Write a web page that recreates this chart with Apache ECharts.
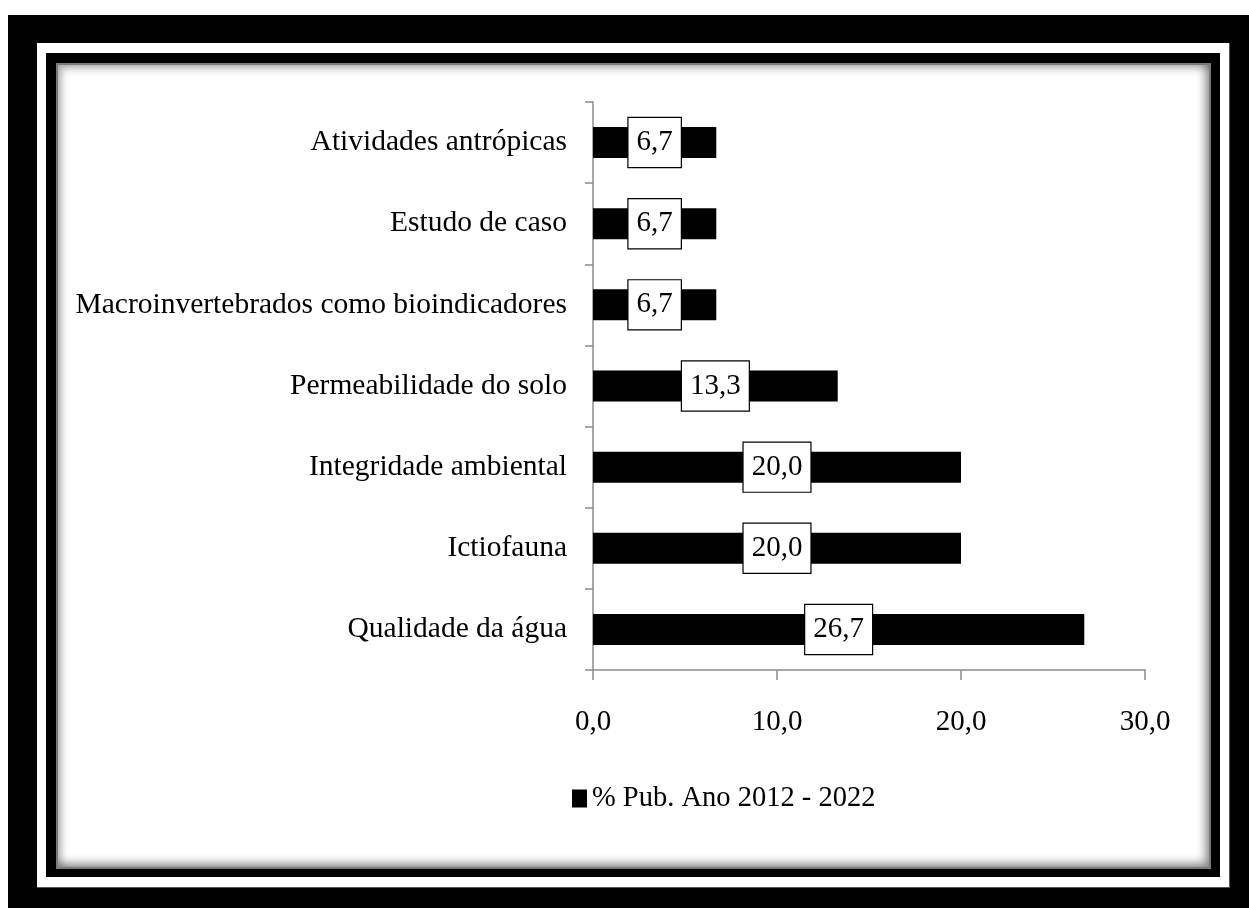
<!DOCTYPE html>
<html>
<head>
<meta charset="utf-8">
<script src="https://cdn.jsdelivr.net/npm/echarts@6/dist/echarts.min.js"></script>
<style>
  html, body { margin: 0; padding: 0; background: #fff; }
  #wrap { position: relative; width: 1249px; height: 908px; overflow: hidden; background: #fff; }
  .f { position: absolute; box-sizing: border-box; }
  #outer { left: 8px; top: 15px; width: 1241px; height: 893px; background: #000; }
  #gap { left: 37px; top: 43px; width: 1193px; height: 845px; background: #fff; border-right: 1px solid #555; border-bottom: 1px solid #555; }
  #band { left: 46px; top: 53px; width: 1174px; height: 824px; background: #000; }
  #panel { left: 56px; top: 63px; width: 1155px; height: 806px; background: #fff;
           border: 2px solid #7a7a7a;
           box-shadow: inset 3px 3px 8px rgba(0,0,0,0.3), inset -4px -4px 10px rgba(0,0,0,0.4); }
  #chart { position: absolute; left: 0; top: 0; width: 1249px; height: 908px; }
</style>
</head>
<body>
<div id="wrap">
  <div class="f" id="outer"></div>
  <div class="f" id="gap"></div>
  <div class="f" id="band"></div>
  <div class="f" id="panel"></div>
  <div id="chart"></div>
</div>
<script>
// Themes, listed bottom to top as drawn on the category axis
const categories = [
  'Qualidade da água',
  'Ictiofauna',
  'Integridade ambiental',
  'Permeabilidade do solo',
  'Macroinvertebrados como bioindicadores',
  'Estudo de caso',
  'Atividades antrópicas'
];
// Share of publications (%) per theme
const shares = [26.7, 20.0, 20.0, 13.3, 6.7, 6.7, 6.7];
const seriesName = '% Pub. Ano 2012 - 2022';

const fmt = v => v.toFixed(1).replace('.', ',');
const serif = '"Liberation Serif", "Times New Roman", serif';

const chart = echarts.init(document.getElementById('chart'), null, { renderer: 'canvas' });
chart.setOption({
  backgroundColor: 'transparent',
  animation: false,
  textStyle: { fontFamily: serif, color: '#000' },
  grid: { left: 593, right: 104, top: 102, bottom: 238, containLabel: false },
  legend: {
    data: [seriesName],
    left: 567, top: 779,
    icon: 'rect', itemWidth: 15, itemHeight: 18, itemGap: 6,
    textStyle: { fontFamily: serif, fontSize: 28.5, color: '#000', padding: [0, 0, 0, 0] }
  },
  xAxis: {
    type: 'value', min: 0, max: 30, interval: 10,
    axisLine: { show: true, lineStyle: { color: '#8c8c8c', width: 1.5 } },
    axisTick: { show: true, length: 10, lineStyle: { color: '#8c8c8c', width: 1.5 } },
    splitLine: { show: false },
    axisLabel: { margin: 38, fontSize: 29, color: '#000', fontFamily: serif, formatter: v => fmt(v) }
  },
  yAxis: {
    type: 'category', data: categories,
    axisLine: { show: true, lineStyle: { color: '#8c8c8c', width: 1.5 } },
    axisTick: { show: true, length: 8, alignWithLabel: false, lineStyle: { color: '#8c8c8c', width: 1.5 } },
    axisLabel: { margin: 26, fontSize: 29.5, color: '#000', fontFamily: serif }
  },
  series: [{
    name: seriesName, type: 'bar', data: shares, barWidth: 31,
    itemStyle: { color: '#000' },
    label: {
      show: true, position: 'inside',
      formatter: p => fmt(p.value),
      fontFamily: serif, fontSize: 29, color: '#000', lineHeight: 30,
      backgroundColor: '#fff', borderColor: '#000', borderWidth: 1.2,
      padding: [10, 8, 9, 8]
    }
  }]
});
</script>
</body>
</html>
